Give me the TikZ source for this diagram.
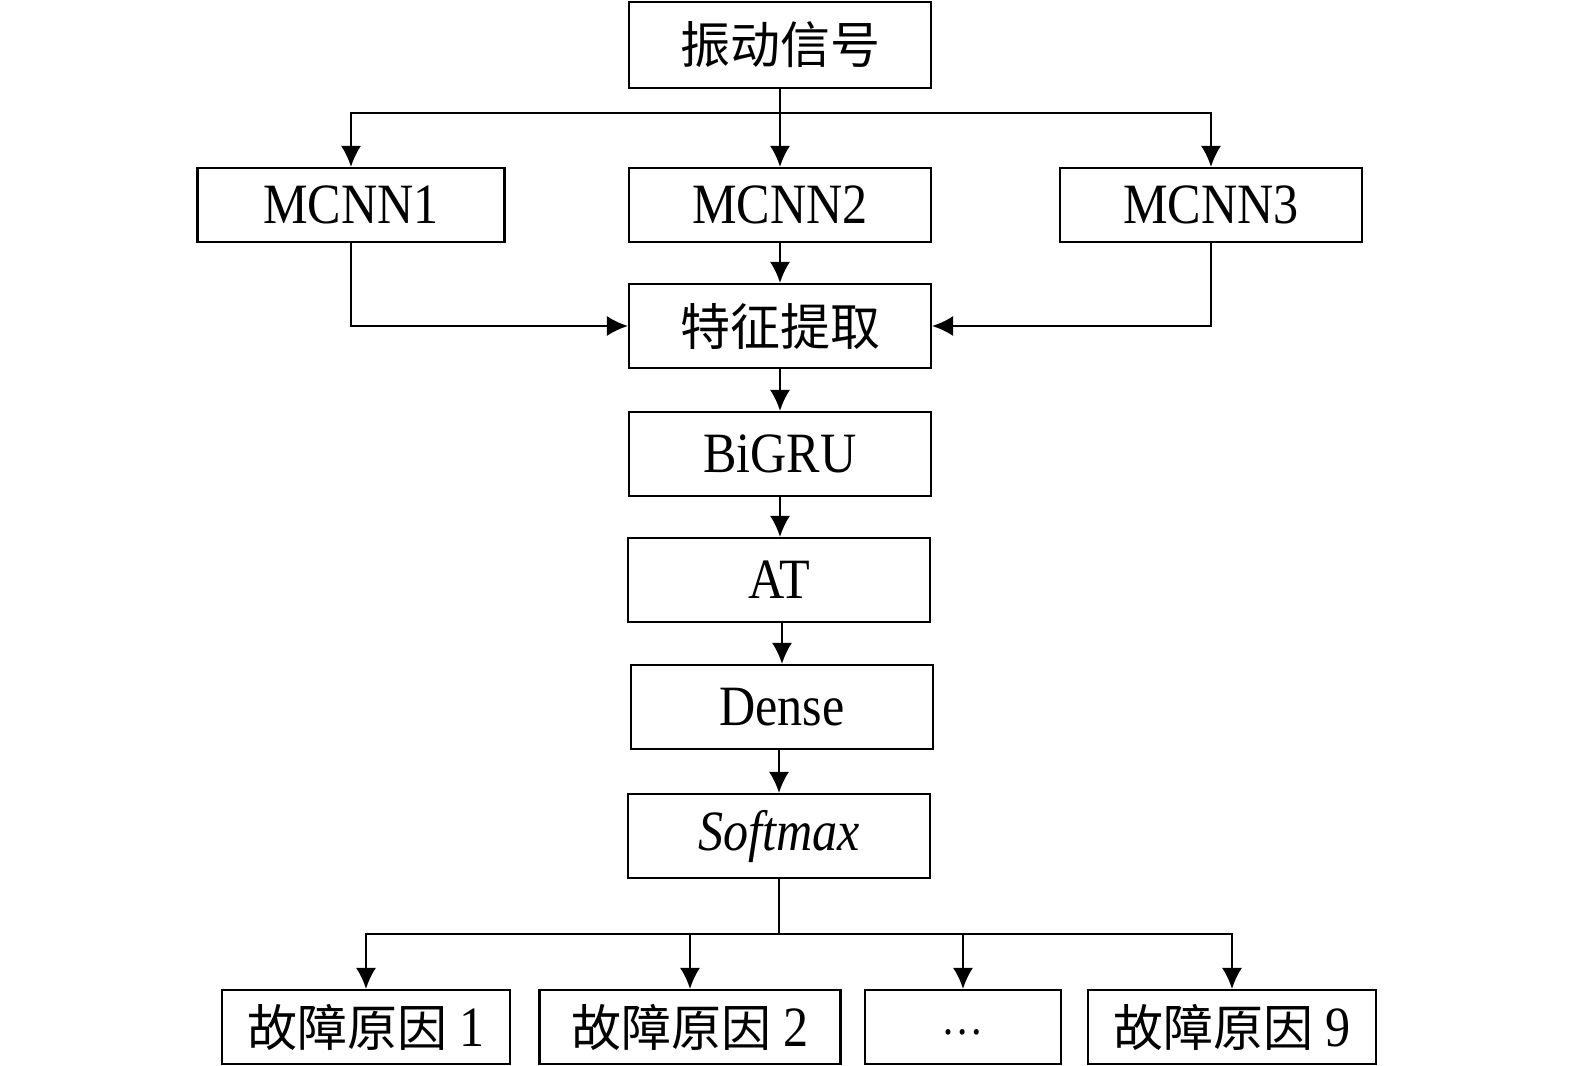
\documentclass[tikz,border=0pt]{standalone}
\usepackage{fontspec}
\setmainfont{Liberation Serif}[FakeStretch=0.88]
\newfontfamily\cjk{Noto Sans CJK SC}
\usetikzlibrary{arrows.meta}
\begin{document}
\begin{tikzpicture}[x=0.5pt,y=-0.5pt,
  box/.style={draw, line width=1.1pt, inner sep=0pt, minimum width=151pt, minimum height=42pt, font=\fontsize{28.5}{30}\selectfont},
  lowbox/.style={box, minimum height=37pt},
  cj/.style={font=\fontsize{25}{28}\selectfont\cjk},
  arr/.style={line width=1pt, -{Latex[length=10.5pt,width=10pt]}},
  ln/.style={line width=1pt}]
\useasboundingbox (0,0) rectangle (1575,1066);
% main column
\node[box, cj, minimum height=43pt] (sig) at (780,45) {振动信号};
\node[lowbox, minimum width=153.5pt] (m1) at (351,205) {MCNN1};
\node[lowbox] (m2) at (780,205) {MCNN2};
\node[lowbox] (m3) at (1211,205) {MCNN3};
\node[box, cj] (feat) at (780,326) {特征提取};
\node[box] (gru) at (780,454) {BiGRU};
\node[box] (at) at (779,580) {AT};
\node[box] (dense) at (782,707) {Dense};
\node[box] (soft) at (779,836) {\itshape Softmax};
% outputs
\node[lowbox, minimum width=144pt, cj] (f1) at (366,1027) {故障原因{\fontsize{28.5}{30}\selectfont\rmfamily\ 1}};
\node[lowbox, minimum width=150.5pt, cj] (f2) at (690,1027) {故障原因{\fontsize{28.5}{30}\selectfont\rmfamily\ 2}};
\node[lowbox, minimum width=98pt] (fd) at (963,1027) {\raisebox{-0.6ex}{\fontsize{24}{26}\selectfont…}};
\node[lowbox, minimum width=144pt, cj] (f9) at (1232,1027) {故障原因{\fontsize{28.5}{30}\selectfont\rmfamily\ 9}};
% top split
\coordinate (s1) at (780,113);
\draw[ln] (sig.south) -- (s1);
\draw[arr] (s1) -| (m1.north);
\draw[arr] (s1) -- (m2.north);
\draw[arr] (s1) -| (m3.north);
% into feature extraction
\draw[arr] (m1.south) |- (feat.west);
\draw[arr] (m2.south) -- (feat.north);
\draw[arr] (m3.south) |- (feat.east);
% chain
\draw[arr] (feat.south) -- (feat.south |- gru.north);
\draw[arr] (gru.south) -- (gru.south |- at.north);
\draw[arr] (at.south -| dense.north) -- (dense.north);
\draw[arr] (dense.south -| soft.north) -- (soft.north);
% bottom split
\coordinate (s2) at (779,934);
\draw[ln] (soft.south) -- (s2);
\draw[arr] (s2) -| (f1.north);
\draw[arr] (s2) -| (f2.north);
\draw[arr] (s2) -| (fd.north);
\draw[arr] (s2) -| (f9.north);
\end{tikzpicture}
\end{document}
